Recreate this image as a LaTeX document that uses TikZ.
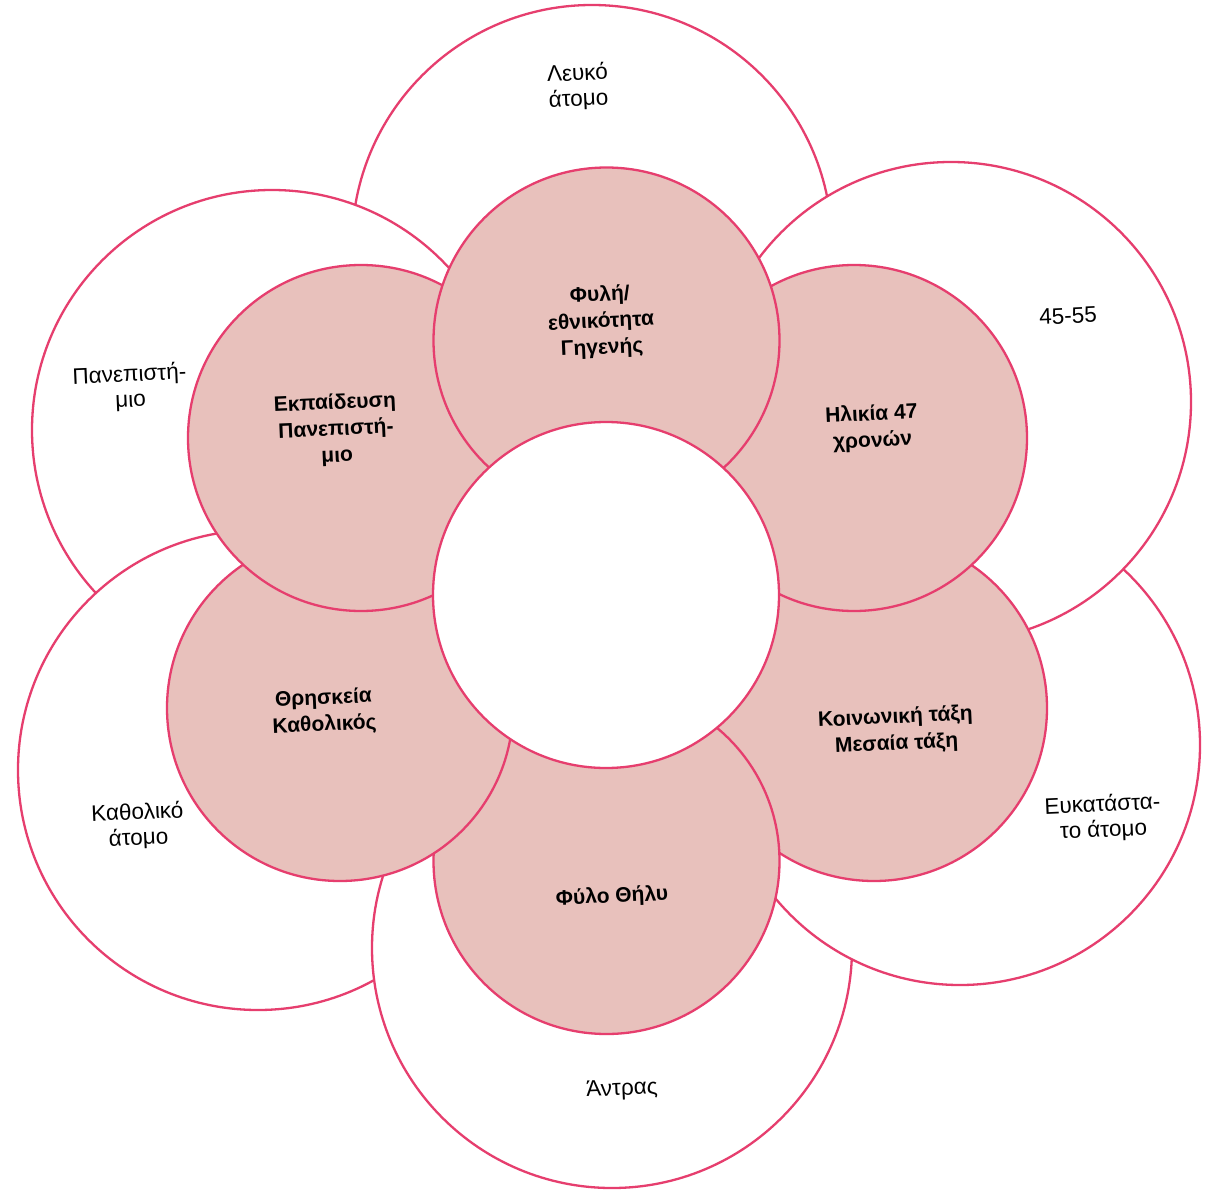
\documentclass[tikz,border=0pt]{standalone}
\usepackage{fontspec}
\setmainfont{Liberation Sans}
\definecolor{rim}{RGB}{230,62,110}
\definecolor{petal}{RGB}{232,193,188}
\begin{document}
\begin{tikzpicture}[x=1pt,y=-1pt,
  outer/.style={circle,draw=rim,line width=2.3pt,fill=white,minimum size=480pt,inner sep=0pt},
  inner/.style={circle,draw=rim,line width=2.3pt,fill=petal,minimum size=346pt,inner sep=0pt},
  hub/.style={circle,draw=rim,line width=2.3pt,fill=white,minimum size=346pt,inner sep=0pt},
  otext/.style={align=center,font=\fontsize{22.5}{25.5}\selectfont,rotate=2.5},
  itext/.style={align=center,font=\fontsize{21}{26.5}\selectfont\bfseries,rotate=2.5}]
\useasboundingbox (0,0) rectangle (1220,1193);
% outer circles
\node[outer] (o1) at (592,245) {};
\node[outer] (o2) at (272,430) {};
\node[outer] (o3) at (258,770) {};
\node[outer] (o4) at (612,948) {};
\node[outer] (o5) at (960,745) {};
\node[outer] (o6) at (951,402) {};
% inner circles
\node[inner] (i5) at (874,708) {};
\node[inner] (i6) at (854,438) {};
\node[inner] (i4) at (606.5,861) {};
\node[inner] (i3) at (340,708) {};
\node[inner] (i2) at (361,438) {};
\node[inner] (i1) at (606.5,340.5) {};
\node[hub] (c) at (606,595) {};
% outer texts
\node[otext] (t1) at (578,87) {Λευκό\\άτομο};
\node[otext] (t6) at (1068,316) {45-55};
\node[otext] (t2) at (130,388) {Πανεπιστή-\\μιο};
\node[otext] (t3) at (138,826) {Καθολικό\\άτομο};
\node[otext] (t4) at (622,1090) {Άντρας};
\node[otext] (t5) at (1103,818) {Ευκατάστα-\\το άτομο};
% inner texts
\node[itext] (s1) at (601,322) {Φυλή/\\εθνικότητα\\Γηγενής};
\node[itext] (s6) at (872,428) {Ηλικία 47\\χρονών};
\node[itext] (s5) at (896,731) {Κοινωνική τάξη\\Μεσαία τάξη};
\node[itext] (s4) at (612,897) {Φύλο Θήλυ};
\node[itext] (s3) at (324,712) {Θρησκεία\\Καθολικός};
\node[itext] (s2) at (336,430) {Εκπαίδευση\\Πανεπιστή-\\μιο};
\end{tikzpicture}
\end{document}
